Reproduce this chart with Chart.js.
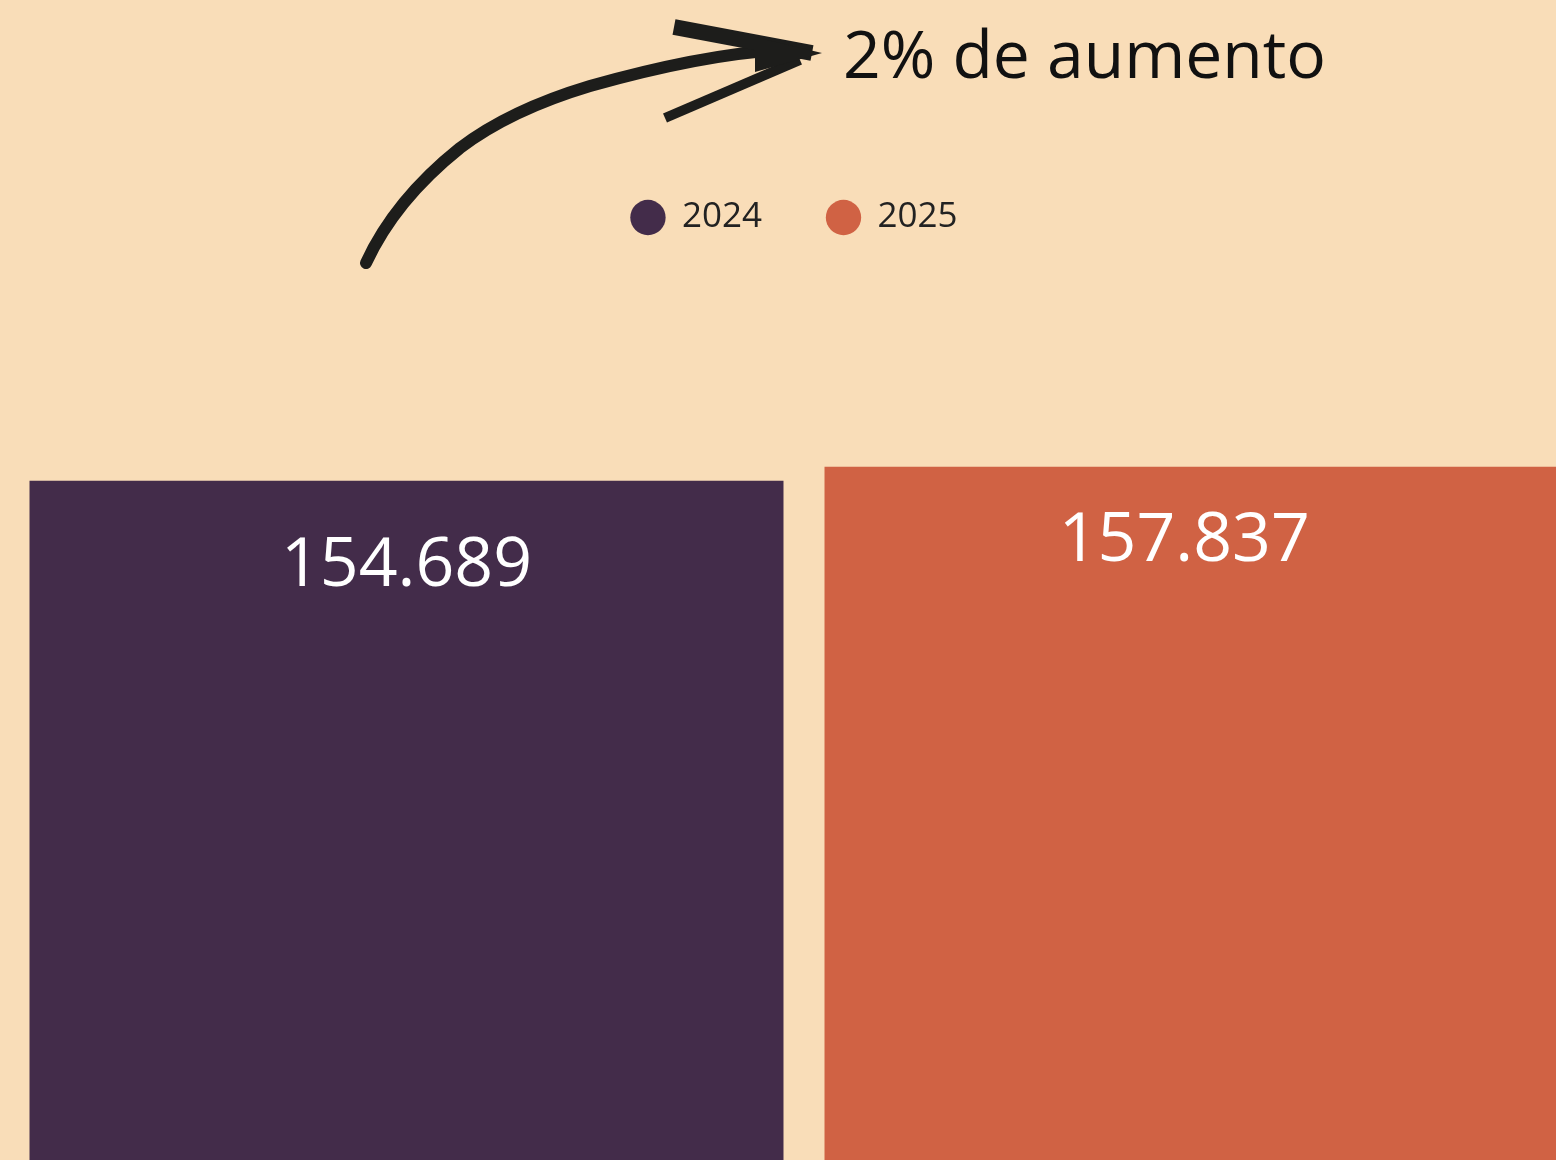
<!DOCTYPE html>
<html>
<head>
<meta charset="utf-8">
<script src="https://cdn.jsdelivr.net/npm/chart.js@4/dist/chart.umd.min.js"></script>
<style>
  html, body { margin: 0; padding: 0; background: #f9ddb8; overflow: hidden; }
  #wrap { position: absolute; left: -10px; top: 0; }
</style>
</head>
<body>
<div id="wrap"><canvas id="chart" width="1609" height="1171"></canvas></div>
<script>
// data
const years = ['2024', '2025'];
const values = [154689, 157837];
const barColors = ['#432c4a', '#d06244'];
const note = '2% de aumento';

const SHIFT = 10; // canvas is shifted left by this much

function fmt(v) {
  return String(v).replace(/\B(?=(\d{3})+(?!\d))/g, '.');
}

// white value labels inside the bars
const valueLabels = {
  id: 'valueLabels',
  afterDatasetsDraw(chart) {
    const ctx = chart.ctx;
    const visRight = window.innerWidth + SHIFT;
    ctx.save();
    ctx.fillStyle = '#ffffff';
    ctx.font = '68px "Open Sans", sans-serif';
    ctx.textAlign = 'center';
    ctx.textBaseline = 'middle';
    chart.data.datasets.forEach((ds, i) => {
      chart.getDatasetMeta(i).data.forEach((bar, j) => {
        const left = bar.x - bar.width / 2;
        const right = Math.min(bar.x + bar.width / 2, visRight);
        ctx.fillText(fmt(ds.data[j]), (left + right) / 2 - ds.labelDx, bar.y + ds.labelOffset);
      });
    });
    ctx.restore();
  }
};

// hand-drawn arrow + note
const annotation = {
  id: 'annotation',
  afterDraw(chart) {
    const ctx = chart.ctx;
    ctx.save();
    ctx.translate(SHIFT, 0);
    ctx.strokeStyle = '#1d1d1b';
    ctx.fillStyle = '#1d1d1b';
    ctx.lineCap = 'round';
    ctx.lineJoin = 'round';
    // shaft
    ctx.lineWidth = 12;
    ctx.beginPath();
    ctx.moveTo(366, 263);
    ctx.quadraticCurveTo(395, 200, 460, 148);
    ctx.quadraticCurveTo(510, 110, 590, 86);
    ctx.quadraticCurveTo(700, 55, 778, 50);
    ctx.stroke();
    // upper barb
    ctx.lineCap = 'butt';
    ctx.lineWidth = 16;
    ctx.beginPath();
    ctx.moveTo(674, 27);
    ctx.lineTo(812, 53);
    ctx.stroke();
    // lower barb
    ctx.lineWidth = 10;
    ctx.beginPath();
    ctx.moveTo(665, 118);
    ctx.lineTo(800, 60);
    ctx.stroke();
    // tip
    ctx.beginPath();
    ctx.moveTo(755, 37);
    ctx.lineTo(822, 53);
    ctx.lineTo(755, 72);
    ctx.closePath();
    ctx.fill();

    ctx.fillStyle = '#111111';
    ctx.font = '66px "Open Sans", sans-serif';
    ctx.textAlign = 'left';
    ctx.textBaseline = 'alphabetic';
    ctx.fillText(note, 843, 78);
    ctx.restore();
  }
};

new Chart(document.getElementById('chart'), {
  type: 'bar',
  data: {
    labels: [''],
    datasets: years.map((y, i) => ({
      label: y,
      data: [values[i]],
      backgroundColor: barColors[i],
      borderWidth: 0,
      labelOffset: i === 0 ? 86 : 75,
      labelDx: i === 0 ? 0 : 6
    }))
  },
  options: {
    responsive: false,
    animation: false,
    layout: { padding: { top: 135, left: 0, right: 0, bottom: 0 } },
    datasets: {
      bar: { categoryPercentage: 1, barPercentage: 0.9484 }
    },
    scales: {
      x: { display: false },
      y: {
        min: 0,
        max: 207500,
        ticks: { display: false },
        grid: { display: false },
        border: { display: false },
        afterFit(scale) { scale.width = 19; }
      }
    },
    plugins: {
      tooltip: { enabled: false },
      legend: {
        position: 'top',
        labels: {
          usePointStyle: true,
          pointStyle: 'circle',
          boxWidth: 33,
          boxHeight: 25,
          padding: 65,
          color: '#222222',
          font: { family: '"Open Sans", sans-serif', size: 35 }
        }
      }
    }
  },
  plugins: [valueLabels, annotation]
});
</script>
</body>
</html>
